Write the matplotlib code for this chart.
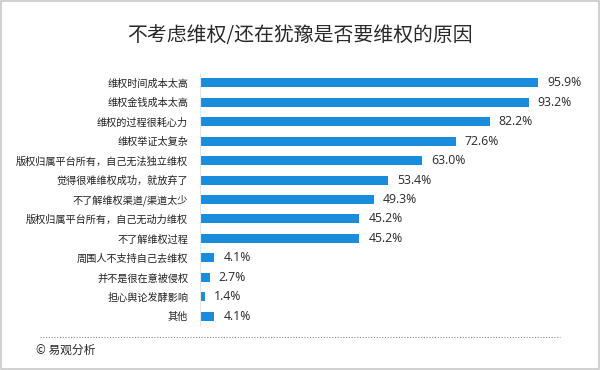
import matplotlib.pyplot as plt
from matplotlib.lines import Line2D
from matplotlib.patches import Rectangle

plt.rcParams['font.family'] = ['Noto Sans CJK SC', 'DejaVu Sans']

# 数据
reasons = ['维权时间成本太高', '维权金钱成本太高', '维权的过程很耗心力', '维权举证太复杂',
           '版权归属平台所有，自己无法独立维权', '觉得很难维权成功，就放弃了',
           '不了解维权渠道/渠道太少', '版权归属平台所有，自己无动力维权', '不了解维权过程',
           '周围人不支持自己去维权', '并不是很在意被侵权', '担心舆论发酵影响', '其他']
values = [95.9, 93.2, 82.2, 72.6, 63.0, 53.4, 49.3, 45.2, 45.2, 4.1, 2.7, 1.4, 4.1]
value_labels = ['95.9%', '93.2%', '82.2%', '72.6%', '63.0%', '53.4%', '49.3%',
                '45.2%', '45.2%', '4.1%', '2.7%', '1.4%', '4.1%']

title = '不考虑维权/还在犹豫是否要维权的原因'
source = '© 易观分析'

W, H = 600, 370
fig = plt.figure(figsize=(W / 100, H / 100), dpi=100)

# 坐标轴位置 (像素换算成比例)
ax_left, ax_right = 200, 588
ax_top, ax_bottom = 73, 326
ax = fig.add_axes([ax_left / W, 1 - ax_bottom / H,
                   (ax_right - ax_left) / W, (ax_bottom - ax_top) / H])

pos = list(range(len(reasons)))
ax.barh(pos, values, height=0.46, color='#1a8cdc')
for p, v, lab in zip(pos, values, value_labels):
    ax.text(v + 2.5, p, lab, va='center', ha='left', fontsize=8.8,
            color='#2a2a2a', family=['Open Sans', 'DejaVu Sans'])

ax.set_xlim(0, 110)
ax.set_ylim(len(reasons) - 0.5, -0.5)
ax.set_yticks(pos)
ax.set_yticklabels(reasons, fontsize=7.3, color='#222222')
ax.tick_params(axis='y', length=0, pad=8.5)
ax.set_xticks([])
for s in ['top', 'right', 'bottom']:
    ax.spines[s].set_visible(False)
ax.spines['left'].set_color('#e6e6e6')
ax.spines['left'].set_linewidth(0.8)

# 标题
fig.text(0.5, 1 - 36 / H, title, ha='center', va='center', fontsize=14.3,
         color='#2a2a2a')

# 虚线与来源
fig.add_artist(Line2D([40 / W, 560 / W], [1 - 337 / H, 1 - 337 / H],
                      color='#888888', linewidth=0.8, linestyle=(0, (1, 1.5))))
fig.text(36 / W, 1 - 350 / H, source, ha='left', va='center', fontsize=8.5,
         color='#2a2a2a')

# 边框
fig.add_artist(Rectangle((0.001, 0.002), 0.997, 0.995, transform=fig.transFigure,
                         fill=False, edgecolor='#c8c8c8', linewidth=1.2))

fig.savefig('out.png', dpi=100)
